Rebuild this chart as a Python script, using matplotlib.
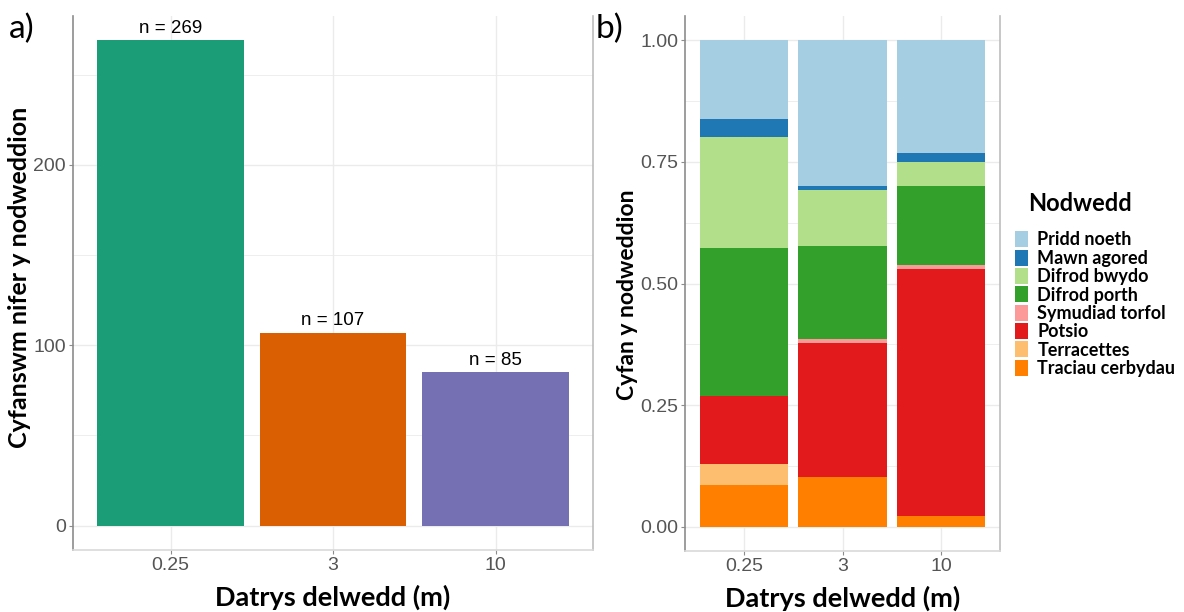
import matplotlib
matplotlib.use("Agg")
import matplotlib.pyplot as plt
import numpy as np
from matplotlib.patches import Patch

# ---- data ----
resolutions = ["0.25", "3", "10"]
totals = [269, 107, 85]
bar_colors = ["#1B9E77", "#D95F02", "#7570B3"]

features = ["Pridd noeth", "Mawn agored", "Difrod bwydo", "Difrod porth",
            "Symudiad torfol", "Potsio", "Terracettes", "Traciau cerbydau"]
feature_colors = ["#A6CEE3", "#1F78B4", "#B2DF8A", "#33A02C",
                  "#FB9A99", "#E31A1C", "#FDBF6F", "#FF7F00"]
# proportions per resolution (0.25, 3, 10)
pridd_noeth = [0.163, 0.299, 0.232]
mawn_agored = [0.037, 0.009, 0.019]
difrod_bwydo = [0.228, 0.114, 0.048]
difrod_porth = [0.304, 0.193, 0.162]
symudiad_torfol = [0.000, 0.007, 0.010]
potsio = [0.140, 0.275, 0.508]
terracettes = [0.044, 0.000, 0.000]
traciau_cerbydau = [0.085, 0.103, 0.021]
props = [pridd_noeth, mawn_agored, difrod_bwydo, difrod_porth,
         symudiad_torfol, potsio, terracettes, traciau_cerbydau]

W, H = 1184, 612
fig = plt.figure(figsize=(W / 100, H / 100), dpi=100)

title_font = "Lato"
tick_font = "Liberation Sans"
grid_c = "#EBEBEB"
tick_c = "#555555"


def style_axes(ax):
    ax.set_facecolor("white")
    ax.spines["top"].set_visible(False)
    ax.spines["left"].set_color("#8C8C8C")
    ax.spines["right"].set_color("#BDBDBD")
    ax.spines["bottom"].set_color("#D9D9D9")
    for s in ax.spines.values():
        s.set_linewidth(1.2)
    ax.tick_params(axis="both", colors="#8C8C8C", length=3, width=0.8,
                   labelcolor=tick_c, labelsize=14, pad=2)
    for lab in ax.get_xticklabels() + ax.get_yticklabels():
        lab.set_fontfamily(tick_font)
    ax.set_axisbelow(True)
    ax.grid(which="major", color=grid_c, linewidth=1.0)
    ax.grid(which="minor", color=grid_c, linewidth=0.6)
    ax.tick_params(which="minor", length=0)


x = np.arange(len(resolutions))

# ---- panel a ----
axa = fig.add_axes([73 / W, 1 - 550 / H, (593 - 73) / W, (550 - 16) / H])
axa.bar(x, totals, width=0.9, color=bar_colors)
ymax = max(totals)
axa.set_ylim(-0.05 * ymax, 1.05 * ymax)
axa.set_xlim(-0.6, len(resolutions) - 0.4)
axa.set_yticks([0, 100, 200])
axa.set_yticks([50, 150, 250], minor=True)
axa.set_xticks(x)
axa.set_xticklabels(resolutions)
style_axes(axa)
for xi, t in zip(x, totals):
    axa.text(xi, t + 2, f"n = {t}", ha="center", va="bottom",
             fontsize=13.5, family=tick_font, color="black")
axa.set_xlabel("Datrys delwedd (m)", fontsize=19.5, fontweight="bold",
               family=title_font, labelpad=8)
axa.set_ylabel("Cyfanswm nifer y nodweddion", fontsize=18, fontweight="bold",
               family=title_font)
axa.yaxis.set_label_coords((31 - 73) / 520, 0.51)

# ---- panel b ----
axb = fig.add_axes([685 / W, 1 - 551 / H, (1000 - 685) / W, (551 - 16) / H])
bottom = np.zeros(len(resolutions))
for name, col, vals in zip(features[::-1], feature_colors[::-1], props[::-1]):
    axb.bar(x, vals, width=0.9, bottom=bottom, color=col, label=name)
    bottom += np.array(vals)
axb.set_ylim(-0.05, 1.05)
axb.set_xlim(-0.6, len(resolutions) - 0.4)
axb.set_yticks([0, 0.25, 0.5, 0.75, 1.0])
axb.set_yticklabels(["0.00", "0.25", "0.50", "0.75", "1.00"])
axb.set_yticks([0.125, 0.375, 0.625, 0.875], minor=True)
axb.set_xticks(x)
axb.set_xticklabels(resolutions)
style_axes(axb)
axb.set_xlabel("Datrys delwedd (m)", fontsize=19.5, fontweight="bold",
               family=title_font, labelpad=8)
axb.set_ylabel("Cyfan y nodweddion", fontsize=16.5, fontweight="bold",
               family=title_font)
axb.yaxis.set_label_coords((638 - 685) / 315, (551 - 295) / 535)

# legend (title placed separately to match spacing)
fig.text(1028 / W, 1 - 204 / H, "Nodwedd", fontsize=17, fontweight="bold",
         family=title_font, va="center", ha="left")
handles = [Patch(facecolor=c, edgecolor="none") for c in feature_colors]
leg = fig.legend(handles, features, loc="upper left",
                 bbox_to_anchor=(1008 / W, 1 - 224 / H), frameon=False,
                 prop={"family": title_font, "weight": "bold", "size": 13},
                 handlelength=0.72, handleheight=1.0, handletextpad=0.5,
                 labelspacing=0.06, borderaxespad=0)

# panel labels
fig.text(9 / W, 1 - 38 / H, "a)", fontsize=24, family=title_font, va="baseline")
fig.text(596 / W, 1 - 38 / H, "b)", fontsize=24, family=title_font, va="baseline")

fig.savefig("out.png", dpi=100, facecolor="white")
